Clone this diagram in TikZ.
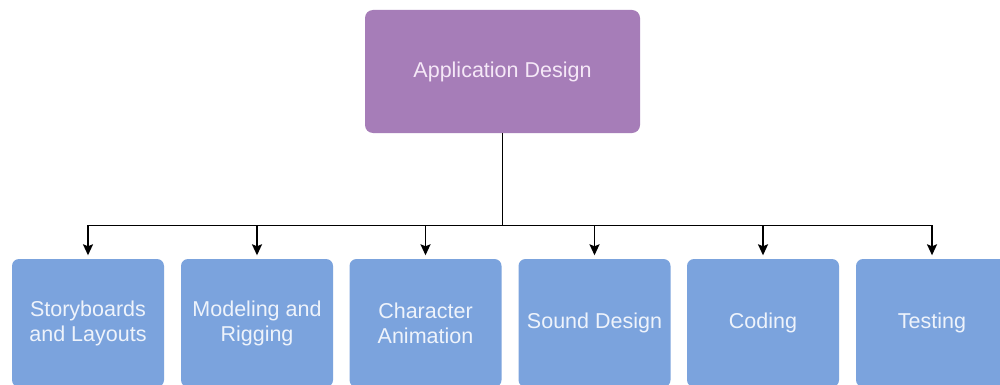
\documentclass[tikz,border=0pt]{standalone}
\usepackage{fontspec}
\setmainfont{Liberation Sans}
\usetikzlibrary{arrows.meta,calc}
\definecolor{purplebox}{HTML}{A67DB8}
\definecolor{bluebox}{HTML}{7BA3DD}
\definecolor{purpletext}{HTML}{F5E8F7}
\definecolor{bluetext}{HTML}{EEF3FB}
\tikzset{
  topbox/.style={fill=purplebox, rounded corners=8pt, minimum width=275pt, minimum height=123pt, inner sep=0pt, text=purpletext, font=\fontsize{21.5}{25}\selectfont, align=center},
  leafbox/.style={fill=bluebox, rounded corners=7pt, minimum width=152pt, minimum height=128pt, inner sep=0pt, text=bluetext, font=\fontsize{21.5}{25}\selectfont, align=center},
  conn/.style={line width=1.8pt, black},
  arr/.style={conn, -{Stealth[width=10pt,length=11pt,inset=2pt]}, shorten >=3.5pt}
}
\begin{document}
\begin{tikzpicture}[x=1pt,y=-1pt]
\useasboundingbox (0,0) rectangle (1000,385);
\clip (0,0) rectangle (1000,385);
\fill[white] (0,0) rectangle (1000,385);
\node[topbox] (app) at (502.5,71.5) {Application Design};
\node[leafbox] (b1) at (88,323) {Storyboards\\and Layouts};
\node[leafbox] (b2) at (257,323) {Modeling and\\Rigging};
\node[leafbox] (b3) at (425.5,323) {Character\\Animation};
\node[leafbox] (b4) at (594.5,323) {Sound Design};
\node[leafbox] (b5) at (763,323) {Coding};
\node[leafbox] (b6) at (932,323) {Testing};
\coordinate (j) at (502.5,225.5);
\draw[conn] (app.south) -- (j);
\foreach \b in {b1,b2,b3,b4,b5,b6}{
  \draw[arr] (j) -| (\b.north);
}
\end{tikzpicture}
\end{document}
